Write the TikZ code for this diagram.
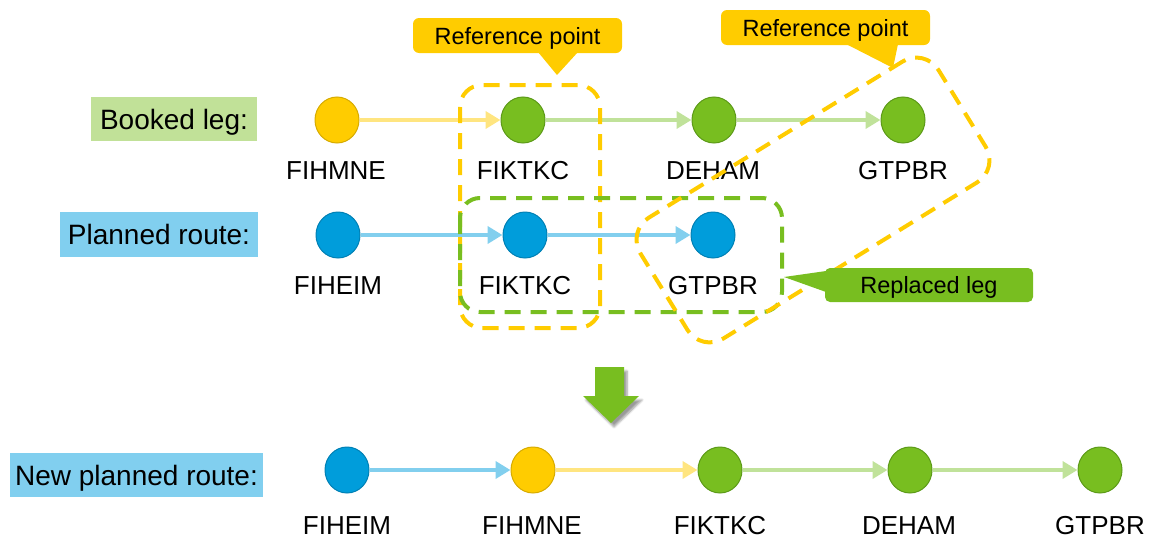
\documentclass[tikz,border=0pt]{standalone}
\usepackage{fontspec}
\setmainfont{Liberation Sans}
\usetikzlibrary{shapes.geometric,arrows.meta,shadows.blur}

\definecolor{cyel}{HTML}{FFCC00}
\definecolor{cyelD}{HTML}{D6AB00}
\definecolor{cgrn}{HTML}{78BE20}
\definecolor{cgrnD}{HTML}{5C9A18}
\definecolor{cblu}{HTML}{009DDB}
\definecolor{cbluD}{HTML}{0080B4}
\definecolor{lyel}{HTML}{FFE580}
\definecolor{lgrn}{HTML}{C0E29A}
\definecolor{lblu}{HTML}{82CFEE}
\definecolor{boxgrn}{HTML}{C1E198}
\definecolor{boxblu}{HTML}{81CFEF}

\begin{document}
\begin{tikzpicture}[x=1pt,y=-1pt,
  every node/.style={inner sep=0pt},
  stop/.style={ellipse, minimum width=44pt, minimum height=46pt, line width=1pt},
  ystop/.style={stop, fill=cyel, draw=cyelD},
  gstop/.style={stop, fill=cgrn, draw=cgrnD},
  bstop/.style={stop, fill=cblu, draw=cbluD},
  code/.style={font=\fontsize{26}{30}\selectfont, text height=18.6pt, text depth=0pt},
  rowlabel/.style={font=\fontsize{28}{32}\selectfont, text height=20pt, text depth=0pt},
  leg/.style={line width=4.5pt, -{Triangle[length=15pt,width=17pt]}},
  zone/.style={line width=4pt, dash pattern=on 16pt off 10pt, rounded corners=22pt},
  callout/.style={font=\fontsize{23.5}{28}\selectfont, text height=17pt, text depth=0pt},
]
\useasboundingbox (0,0) rectangle (1156,538);

% row titles
\node[rowlabel, fill=boxgrn, minimum width=166pt, minimum height=44pt] (tbooked) at (174,119) {Booked leg:};
\node[rowlabel, fill=boxblu, minimum width=198pt, minimum height=45pt] (tplanned) at (159,234.5) {Planned route:};
\node[rowlabel, fill=boxblu, minimum width=253pt, minimum height=44pt] (tnew) at (136.5,475) {New planned route:};

% booked leg
\node[ystop] (b1) at (337,120) {};
\node[gstop] (b2) at (523,120) {};
\node[gstop] (b3) at (714,120) {};
\node[gstop] (b4) at (903,120) {};
\node[code] (lb1) at (336,170) {FIHMNE};
\node[code] (lb2) at (523,170) {FIKTKC};
\node[code] (lb3) at (713,170) {DEHAM};
\node[code] (lb4) at (903,170) {GTPBR};
\draw[leg, lyel] (b1) -- (b2);
\draw[leg, lgrn] (b2) -- (b3);
\draw[leg, lgrn] (b3) -- (b4);

% planned route
\node[bstop] (p1) at (338,235) {};
\node[bstop] (p2) at (525,235) {};
\node[bstop] (p3) at (713,235) {};
\node[code] (lp1) at (338,285) {FIHEIM};
\node[code] (lp2) at (525,285) {FIKTKC};
\node[code] (lp3) at (713,285) {GTPBR};
\draw[leg, lblu] (p1) -- (p2);
\draw[leg, lblu] (p2) -- (p3);

% new planned route
\node[bstop] (n1) at (347,470) {};
\node[ystop] (n2) at (533,470) {};
\node[gstop] (n3) at (720,470) {};
\node[gstop] (n4) at (910,470) {};
\node[gstop] (n5) at (1100,470) {};
\node[code] (ln1) at (347,525) {FIHEIM};
\node[code] (ln2) at (532,525) {FIHMNE};
\node[code] (ln3) at (720,525) {FIKTKC};
\node[code] (ln4) at (909,525) {DEHAM};
\node[code] (ln5) at (1100,525) {GTPBR};
\draw[leg, lblu] (n1) -- (n2);
\draw[leg, lyel] (n2) -- (n3);
\draw[leg, lgrn] (n3) -- (n4);
\draw[leg, lgrn] (n4) -- (n5);

% dashed groupings
\draw[zone, cyel] (460,85) rectangle (600,328);
\draw[zone, cgrn, rounded corners=20pt] (460,198) rectangle (782,312);
\node[zone, draw=cyel, rotate=31.6, minimum width=350pt, minimum height=142pt, rounded corners=26pt] (reach) at (813,200) {};

% callouts
\fill[cyel, rounded corners=6pt] (413,18) rectangle (622,53);
\fill[cyel] (538,52) -- (578,52) -- (557,75) -- cycle;
\node[callout] (ref1) at (517.5,35.5) {Reference point};

\fill[cyel, rounded corners=6pt] (721,10) rectangle (930,45);
\fill[cyel] (846,44) -- (898,44) -- (893,68) -- cycle;
\node[callout] (ref2) at (825.5,27.5) {Reference point};

\fill[cgrn, rounded corners=5pt] (825,268) rectangle (1033,302);
\fill[cgrn] (784,277) -- (826,271) -- (826,292) -- cycle;
\node[callout] (repl) at (929,285) {Replaced leg};

% transition arrow
\fill[cgrn, blur shadow={shadow xshift=3pt, shadow yshift=-4pt, shadow blur steps=6}]
  (595,367) -- (624,367) -- (624,396) -- (639,396) -- (611,423) -- (583,396) -- (595,396) -- cycle;
\end{tikzpicture}
\end{document}
